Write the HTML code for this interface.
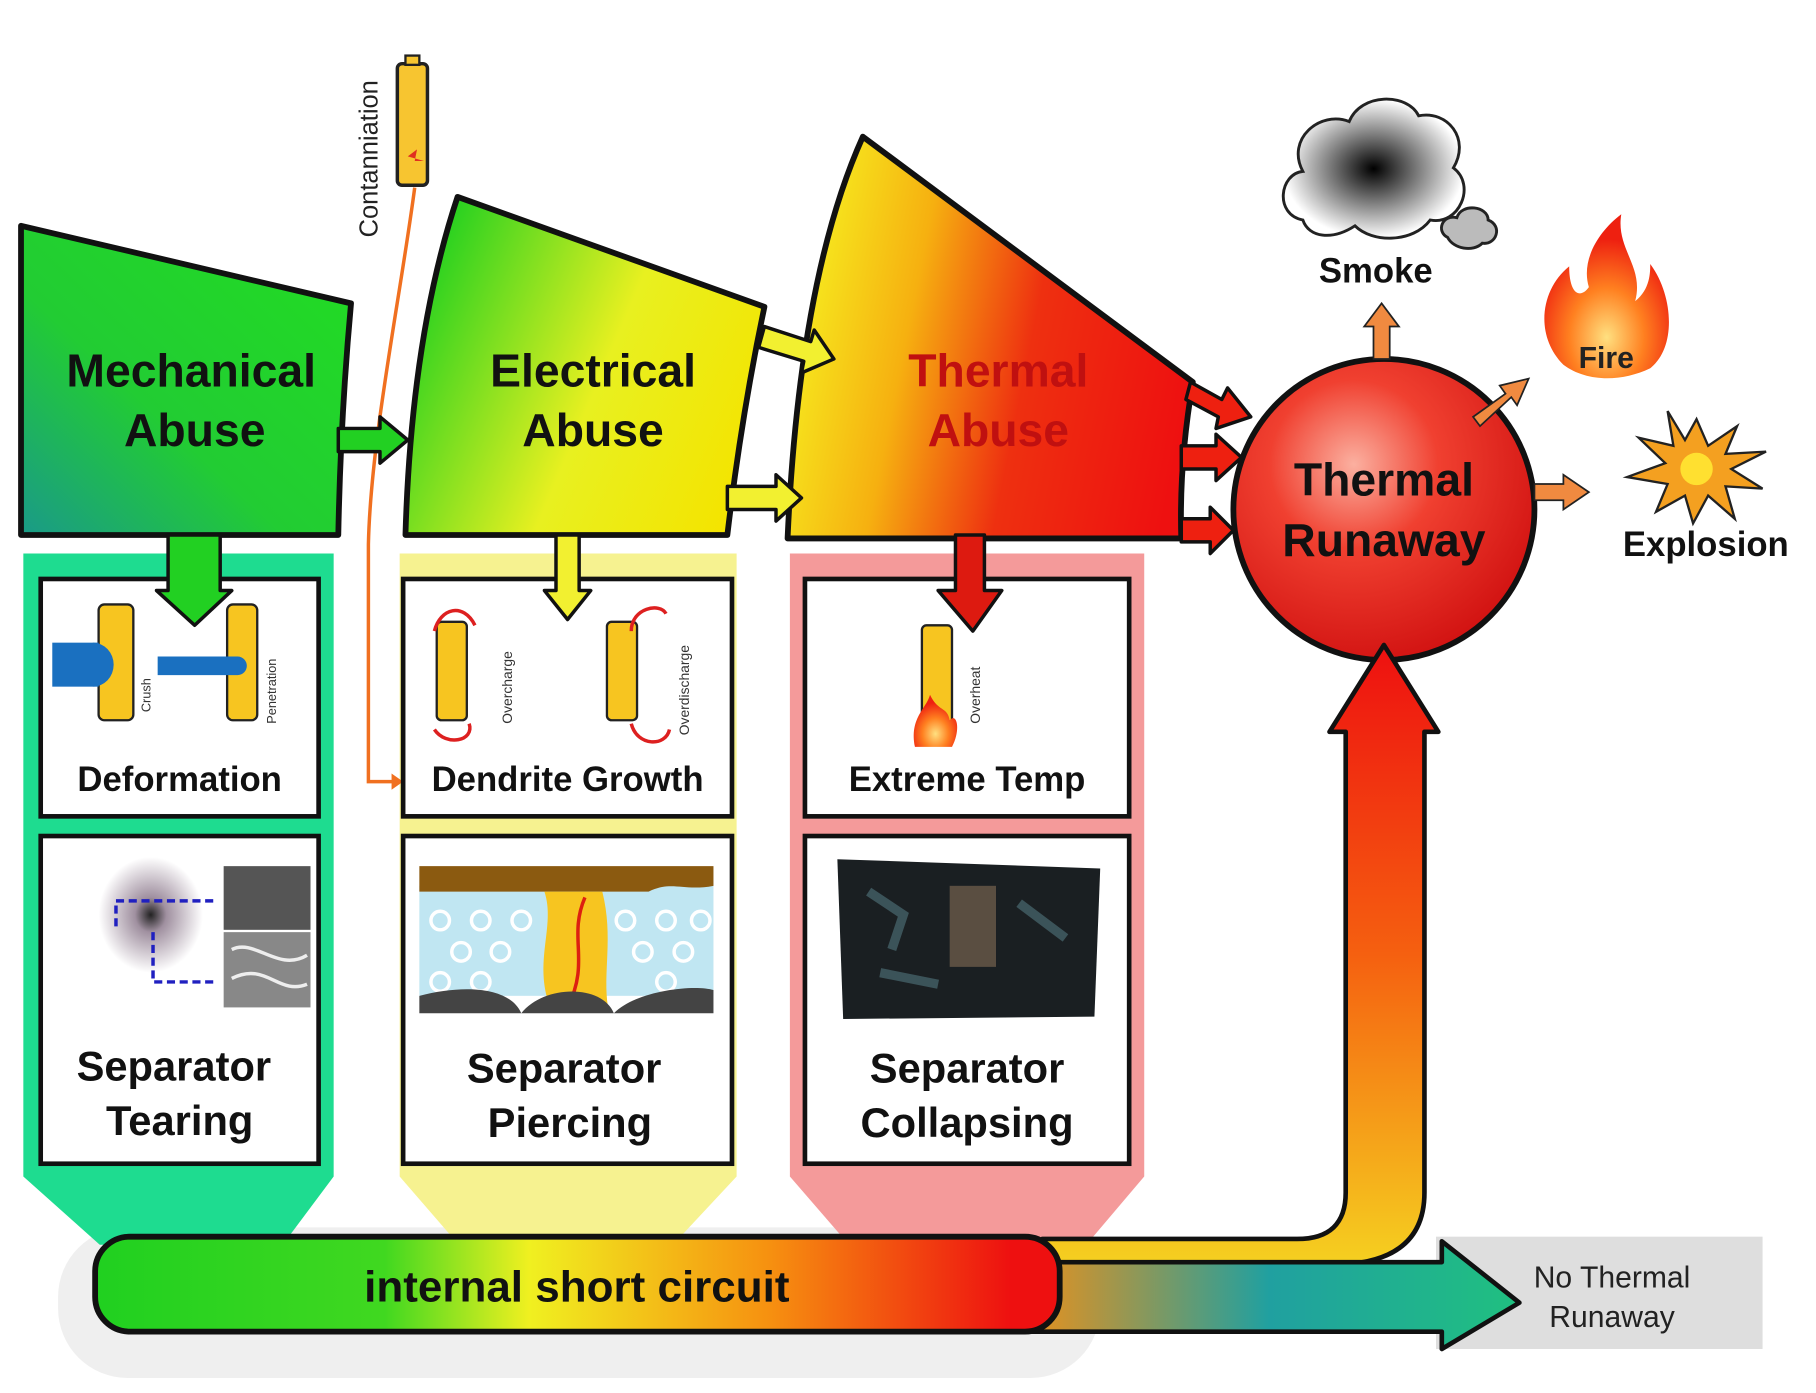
<!DOCTYPE html>
<html><head><meta charset="utf-8"><style>
html,body{margin:0;padding:0;background:#fff}
svg{display:block}
text{font-family:"Liberation Sans",Arial,sans-serif;font-weight:bold}
</style></head><body>
<svg width="1816" height="1393" viewBox="0 0 1568 1203" xmlns="http://www.w3.org/2000/svg">
<defs>
<linearGradient id="gMech" x1="1" y1="0" x2="0" y2="1"><stop offset="0" stop-color="#22dd22"/><stop offset="0.6" stop-color="#22cc33"/><stop offset="1" stop-color="#1a9a88"/></linearGradient>
<linearGradient id="gElec" x1="0" y1="0.3" x2="1" y2="0.7"><stop offset="0" stop-color="#20d020"/><stop offset="0.55" stop-color="#e8f020"/><stop offset="1" stop-color="#f4e400"/></linearGradient>
<linearGradient id="gTherm" x1="0" y1="0.4" x2="1" y2="0.6"><stop offset="0" stop-color="#f6f020"/><stop offset="0.3" stop-color="#f6b010"/><stop offset="0.6" stop-color="#ee3010"/><stop offset="1" stop-color="#ee1010"/></linearGradient>
<radialGradient id="gCirc" cx="0.4" cy="0.35" r="0.7"><stop offset="0" stop-color="#fbb0a0"/><stop offset="0.4" stop-color="#f04030"/><stop offset="1" stop-color="#d01010"/></radialGradient>
<linearGradient id="gBar" x1="0" y1="0" x2="1" y2="0"><stop offset="0" stop-color="#20d020"/><stop offset="0.3" stop-color="#40d820"/><stop offset="0.45" stop-color="#f0f020"/><stop offset="0.7" stop-color="#f69010"/><stop offset="0.95" stop-color="#ee1010"/></linearGradient>
<linearGradient id="gTail" x1="0" y1="0" x2="1" y2="0"><stop offset="0" stop-color="#f09018"/><stop offset="0.5" stop-color="#20a0a0"/><stop offset="1" stop-color="#20c080"/></linearGradient>
<linearGradient id="gUp" x1="0" y1="1" x2="0" y2="0"><stop offset="0" stop-color="#f5d020"/><stop offset="0.5" stop-color="#f56010"/><stop offset="1" stop-color="#ee1010"/></linearGradient>
<radialGradient id="gSmoke" cx="0.5" cy="0.5" r="0.5"><stop offset="0" stop-color="#000"/><stop offset="0.6" stop-color="#999"/><stop offset="1" stop-color="#fff"/></radialGradient>
<radialGradient id="gFire" cx="0.5" cy="0.75" r="0.6"><stop offset="0" stop-color="#ffe080"/><stop offset="0.5" stop-color="#ff8020"/><stop offset="1" stop-color="#ee2010"/></radialGradient>
<radialGradient id="gTear" cx="0.5" cy="0.5" r="0.5"><stop offset="0" stop-color="#222"/><stop offset="0.3" stop-color="#a090a0"/><stop offset="1" stop-color="#fff"/></radialGradient>
</defs>

<!-- contamination -->
<text transform="translate(326,205) rotate(-90)" font-size="22" fill="#222" style="font-weight:normal">Contanniation</text>
<rect x="343" y="55" width="26" height="105" rx="4" fill="#f7c530" stroke="#222" stroke-width="3"/>
<rect x="350" y="48" width="12" height="8" fill="#f7c530" stroke="#222" stroke-width="2"/>
<path d="M352,135 l8,-6 l-2,10 l8,0 z" fill="#e03020"/>

<!-- shadow under bar -->
<rect x="50" y="1060" width="900" height="130" rx="60" fill="#e8e8e8" opacity="0.7"/>

<!-- column panels (filled) -->
<path d="M20,478 H288 V1016 L244,1075 H86 L20,1016 Z" fill="#1edc90"/>
<path d="M345,478 H636 V1016 L581,1075 H396 L345,1016 Z" fill="#f6f290"/>
<path d="M682,478 H988 V1016 L938,1075 H733 L682,1016 Z" fill="#f49a9a"/>

<path d="M358,162 C345,260 320,380 318,470 L318,675 L340,675" fill="none" stroke="#f07020" stroke-width="3"/>
<path d="M338,668 l10,7 l-10,7 z" fill="#f07020"/>

<!-- boxes -->
<g fill="#fff" stroke="#111" stroke-width="4">
<rect x="35" y="500" width="240" height="205"/>
<rect x="35" y="722" width="240" height="283"/>
<rect x="348" y="500" width="284" height="205"/>
<rect x="348" y="722" width="284" height="283"/>
<rect x="695" y="500" width="280" height="205"/>
<rect x="695" y="722" width="280" height="283"/>
</g>
<g font-size="30" fill="#111" text-anchor="middle">
<text x="155" y="683">Deformation</text>
<text x="490" y="683">Dendrite Growth</text>
<text x="835" y="683">Extreme Temp</text>
<text x="150" y="933" font-size="36">Separator</text>
<text x="155" y="980" font-size="36">Tearing</text>
<text x="487" y="935" font-size="36">Separator</text>
<text x="492" y="982" font-size="36">Piercing</text>
<text x="835" y="935" font-size="36">Separator</text>
<text x="835" y="982" font-size="36">Collapsing</text>
</g>

<!-- deformation icons -->
<rect x="85" y="522" width="30" height="100" rx="5" fill="#f7c520" stroke="#222" stroke-width="2"/>
<rect x="45" y="555" width="40" height="38" fill="#1a70c0"/>
<path d="M80,555 a18,19 0 0 1 0,38 z" fill="#1a70c0"/>
<rect x="196" y="522" width="26" height="100" rx="5" fill="#f7c520" stroke="#222" stroke-width="2"/>
<path d="M136,567 H205 a8,8 0 0 1 0,16 H136 Z" fill="#1a70c0"/>
<!-- dendrite batteries -->
<rect x="377" y="537" width="26" height="85" rx="4" fill="#f7c520" stroke="#222" stroke-width="2"/>
<rect x="524" y="537" width="26" height="85" rx="4" fill="#f7c520" stroke="#222" stroke-width="2"/>
<g fill="none" stroke="#dd2020" stroke-width="3">
<path d="M375,545 C380,525 400,520 410,540"/><path d="M405,625 C410,640 385,645 375,630"/>
<path d="M545,545 C545,525 570,520 575,530"/><path d="M545,625 C550,645 575,645 578,630"/>
</g>
<text transform="translate(442,625) rotate(-90)" font-size="12" fill="#333" style="font-weight:normal">Overcharge</text>
<text transform="translate(595,635) rotate(-90)" font-size="12" fill="#333" style="font-weight:normal">Overdischarge</text>
<text transform="translate(130,615) rotate(-90)" font-size="11" fill="#333" style="font-weight:normal">Crush</text>
<text transform="translate(238,625) rotate(-90)" font-size="11" fill="#333" style="font-weight:normal">Penetration</text>
<!-- extreme temp battery -->
<rect x="796" y="540" width="26" height="85" rx="4" fill="#f7c520" stroke="#222" stroke-width="2"/>
<path d="M790,645 C785,620 800,612 803,600 C810,615 818,610 820,622 C826,615 830,630 822,645 Z" fill="url(#gFire)"/>
<text transform="translate(846,625) rotate(-90)" font-size="12" fill="#333" style="font-weight:normal">Overheat</text>

<!-- tearing image -->
<ellipse cx="130" cy="790" rx="45" ry="50" fill="url(#gTear)"/>
<rect x="193" y="748" width="75" height="55" fill="#555"/>
<rect x="193" y="805" width="75" height="65" fill="#888"/>
<path d="M200,820 C220,810 240,840 265,825 M200,845 C230,830 240,860 265,850" stroke="#eee" stroke-width="3" fill="none"/>
<path d="M100,800 V778 H188 M132,805 V848 H188" fill="none" stroke="#2020c0" stroke-width="3" stroke-dasharray="7,4"/>
<!-- piercing image -->
<rect x="362" y="765" width="254" height="95" fill="#c0e6f2"/>
<path d="M362,748 H616 V765 C590,770 580,760 560,770 H362 Z" fill="#8b5a10"/>
<g fill="none" stroke="#fff" stroke-width="3">
<circle cx="380" cy="795" r="8"/><circle cx="415" cy="795" r="8"/><circle cx="450" cy="795" r="8"/><circle cx="540" cy="795" r="8"/><circle cx="575" cy="795" r="8"/><circle cx="605" cy="795" r="8"/>
<circle cx="398" cy="822" r="8"/><circle cx="432" cy="822" r="8"/><circle cx="555" cy="822" r="8"/><circle cx="590" cy="822" r="8"/>
<circle cx="380" cy="848" r="8"/><circle cx="415" cy="848" r="8"/><circle cx="575" cy="848" r="8"/>
</g>
<path d="M470,770 C480,800 460,830 475,870 H525 C520,840 530,810 520,770 Z" fill="#f7c520"/>
<path d="M505,775 C490,810 510,830 490,870" stroke="#dd2010" stroke-width="3" fill="none"/>
<path d="M362,860 C400,850 440,852 450,875 H362 Z M450,875 C470,850 520,850 530,875 Z M530,875 C550,855 600,850 616,855 V875 Z" fill="#444"/>
<!-- collapsing image -->
<path d="M723,742 L950,750 L945,878 L728,880 Z" fill="#1a1f22"/>
<rect x="820" y="765" width="40" height="70" fill="#6a5a4a" opacity="0.8"/>
<path d="M750,770 l30,20 l-10,30 M880,780 l40,30 M760,840 l50,10" stroke="#4a6a70" stroke-width="8" fill="none" opacity="0.7"/>

<!-- abuse shapes -->
<path d="M18,195 L303,262 Q294,360 292,462 L18,462 Z" fill="url(#gMech)" stroke="#111" stroke-width="5" stroke-linejoin="round"/>
<path d="M395,170 L660,265 Q640,360 628,462 L350,462 Q355,290 395,170 Z" fill="url(#gElec)" stroke="#111" stroke-width="5" stroke-linejoin="round"/>
<path d="M745,118 L1030,330 Q1018,400 1020,465 L680,465 Q690,240 745,118 Z" fill="url(#gTherm)" stroke="#111" stroke-width="5" stroke-linejoin="round"/>
<g font-size="40" text-anchor="middle" fill="#111">
<text x="165" y="334">Mechanical</text><text x="168" y="385">Abuse</text>
<text x="512" y="334">Electrical</text><text x="512" y="385">Abuse</text>
<text x="862" y="334" fill="#c01010">Thermal</text><text x="862" y="385" fill="#c01010">Abuse</text>
</g>

<!-- connector arrows -->
<g stroke="#111" stroke-width="3" stroke-linejoin="round">
<path d="M292,370 H328 V360 L352,380 L328,400 V390 H292 Z" fill="#22d022"/>
<path d="M660,282 L700,295 L703,285 L720,310 L692,322 L694,312 L655,300 Z" fill="#f2f030"/>
<path d="M628,420 H670 V410 L692,430 L670,450 V440 H628 Z" fill="#f2f030"/>
<path d="M1028,330 L1055,345 L1060,335 L1080,360 L1050,370 L1052,360 L1024,345 Z" fill="#ee2010"/>
<path d="M1020,385 H1050 V375 L1072,395 L1050,415 V405 H1020 Z" fill="#ee2010"/>
<path d="M1020,448 H1045 V438 L1065,458 L1045,478 V468 H1020 Z" fill="#ee2010"/>
<path d="M145,462 V510 H135 L168,540 L200,510 H190 V462 Z" fill="#22d022"/>
<path d="M480,462 V510 H470 L490,535 L510,510 H500 V462 Z" fill="#f2f030"/>
<path d="M825,462 V510 H810 L840,545 L865,510 H850 V462 Z" fill="#dd1a10"/>
</g>

<!-- thermal runaway circle -->
<circle cx="1195" cy="440" r="130" fill="url(#gCirc)" stroke="#111" stroke-width="5"/>
<text x="1195" y="428" font-size="40" text-anchor="middle" fill="#111">Thermal</text>
<text x="1195" y="480" font-size="40" text-anchor="middle" fill="#111">Runaway</text>

<g fill="#f08a40" stroke="#222" stroke-width="1.5">
<path d="M1186,310 V282 H1178 L1193,262 L1208,282 H1200 V310 Z"/>
<path d="M1272,360 L1300,340 L1295,333 L1320,327 L1310,350 L1305,343 L1278,368 Z"/>
<path d="M1325,418 H1350 V410 L1372,425 L1350,440 V432 H1325 Z"/>
</g>

<!-- smoke -->
<path d="M1125,190 C1100,185 1105,150 1125,148 C1110,120 1140,95 1165,105 C1175,80 1215,80 1225,100 C1250,95 1270,120 1255,145 C1275,160 1260,195 1235,190 C1220,210 1185,210 1170,195 C1150,208 1130,205 1125,190 Z" fill="url(#gSmoke)" stroke="#222" stroke-width="2.5"/>
<path d="M1250,205 C1240,200 1245,185 1258,188 C1262,175 1285,178 1285,190 C1298,195 1292,212 1280,210 C1272,218 1255,215 1250,205 Z" fill="#bbb" stroke="#222" stroke-width="2.5"/>
<text x="1188" y="244" font-size="30" text-anchor="middle" fill="#111">Smoke</text>

<!-- fire -->
<path d="M1350,315 C1325,290 1330,250 1355,230 C1355,255 1365,258 1372,248 C1365,225 1380,200 1400,185 C1395,215 1420,230 1412,260 C1425,250 1425,235 1425,228 C1445,255 1448,300 1425,318 C1400,330 1370,330 1350,315 Z" fill="url(#gFire)"/>
<text x="1387" y="318" font-size="26" text-anchor="middle" fill="#222">Fire</text>

<!-- explosion -->
<path d="M1465,362 L1475,385 L1500,368 L1490,392 L1525,390 L1495,405 L1522,422 L1490,420 L1498,448 L1475,428 L1462,452 L1455,428 L1430,442 L1440,418 L1405,412 L1438,400 L1415,378 L1445,385 L1440,355 L1455,380 Z" fill="#f4a020" stroke="#222" stroke-width="2"/>
<circle cx="1465" cy="405" r="14" fill="#ffe030"/>
<text x="1473" y="480" font-size="30" text-anchor="middle" fill="#111">Explosion</text>

<!-- no thermal runaway box -->
<rect x="1240" y="1068" width="282" height="97" fill="#dedede"/>
<!-- big up arrow -->
<path d="M900,1070 H1120 Q1162,1070 1162,1030 V632 H1148 L1195,557 L1242,632 H1230 V1030 Q1230,1088 1160,1092 H900 Z" fill="url(#gUp)" stroke="#111" stroke-width="4" stroke-linejoin="round"/>
<!-- tail arrow -->
<path d="M880,1090 H1245 V1072 L1312,1125 L1245,1165 V1150 H880 Z" fill="url(#gTail)" stroke="#111" stroke-width="4" stroke-linejoin="round"/>
<text x="1392" y="1112" font-size="26" text-anchor="middle" fill="#222" style="font-weight:normal">No Thermal</text>
<text x="1392" y="1146" font-size="26" text-anchor="middle" fill="#222" style="font-weight:normal">Runaway</text>
<!-- bar -->
<rect x="82" y="1068" width="833" height="82" rx="30" fill="url(#gBar)" stroke="#111" stroke-width="5"/>
<text x="498" y="1124" font-size="38" text-anchor="middle" fill="#111">internal short circuit</text>
</svg>
</body></html>
